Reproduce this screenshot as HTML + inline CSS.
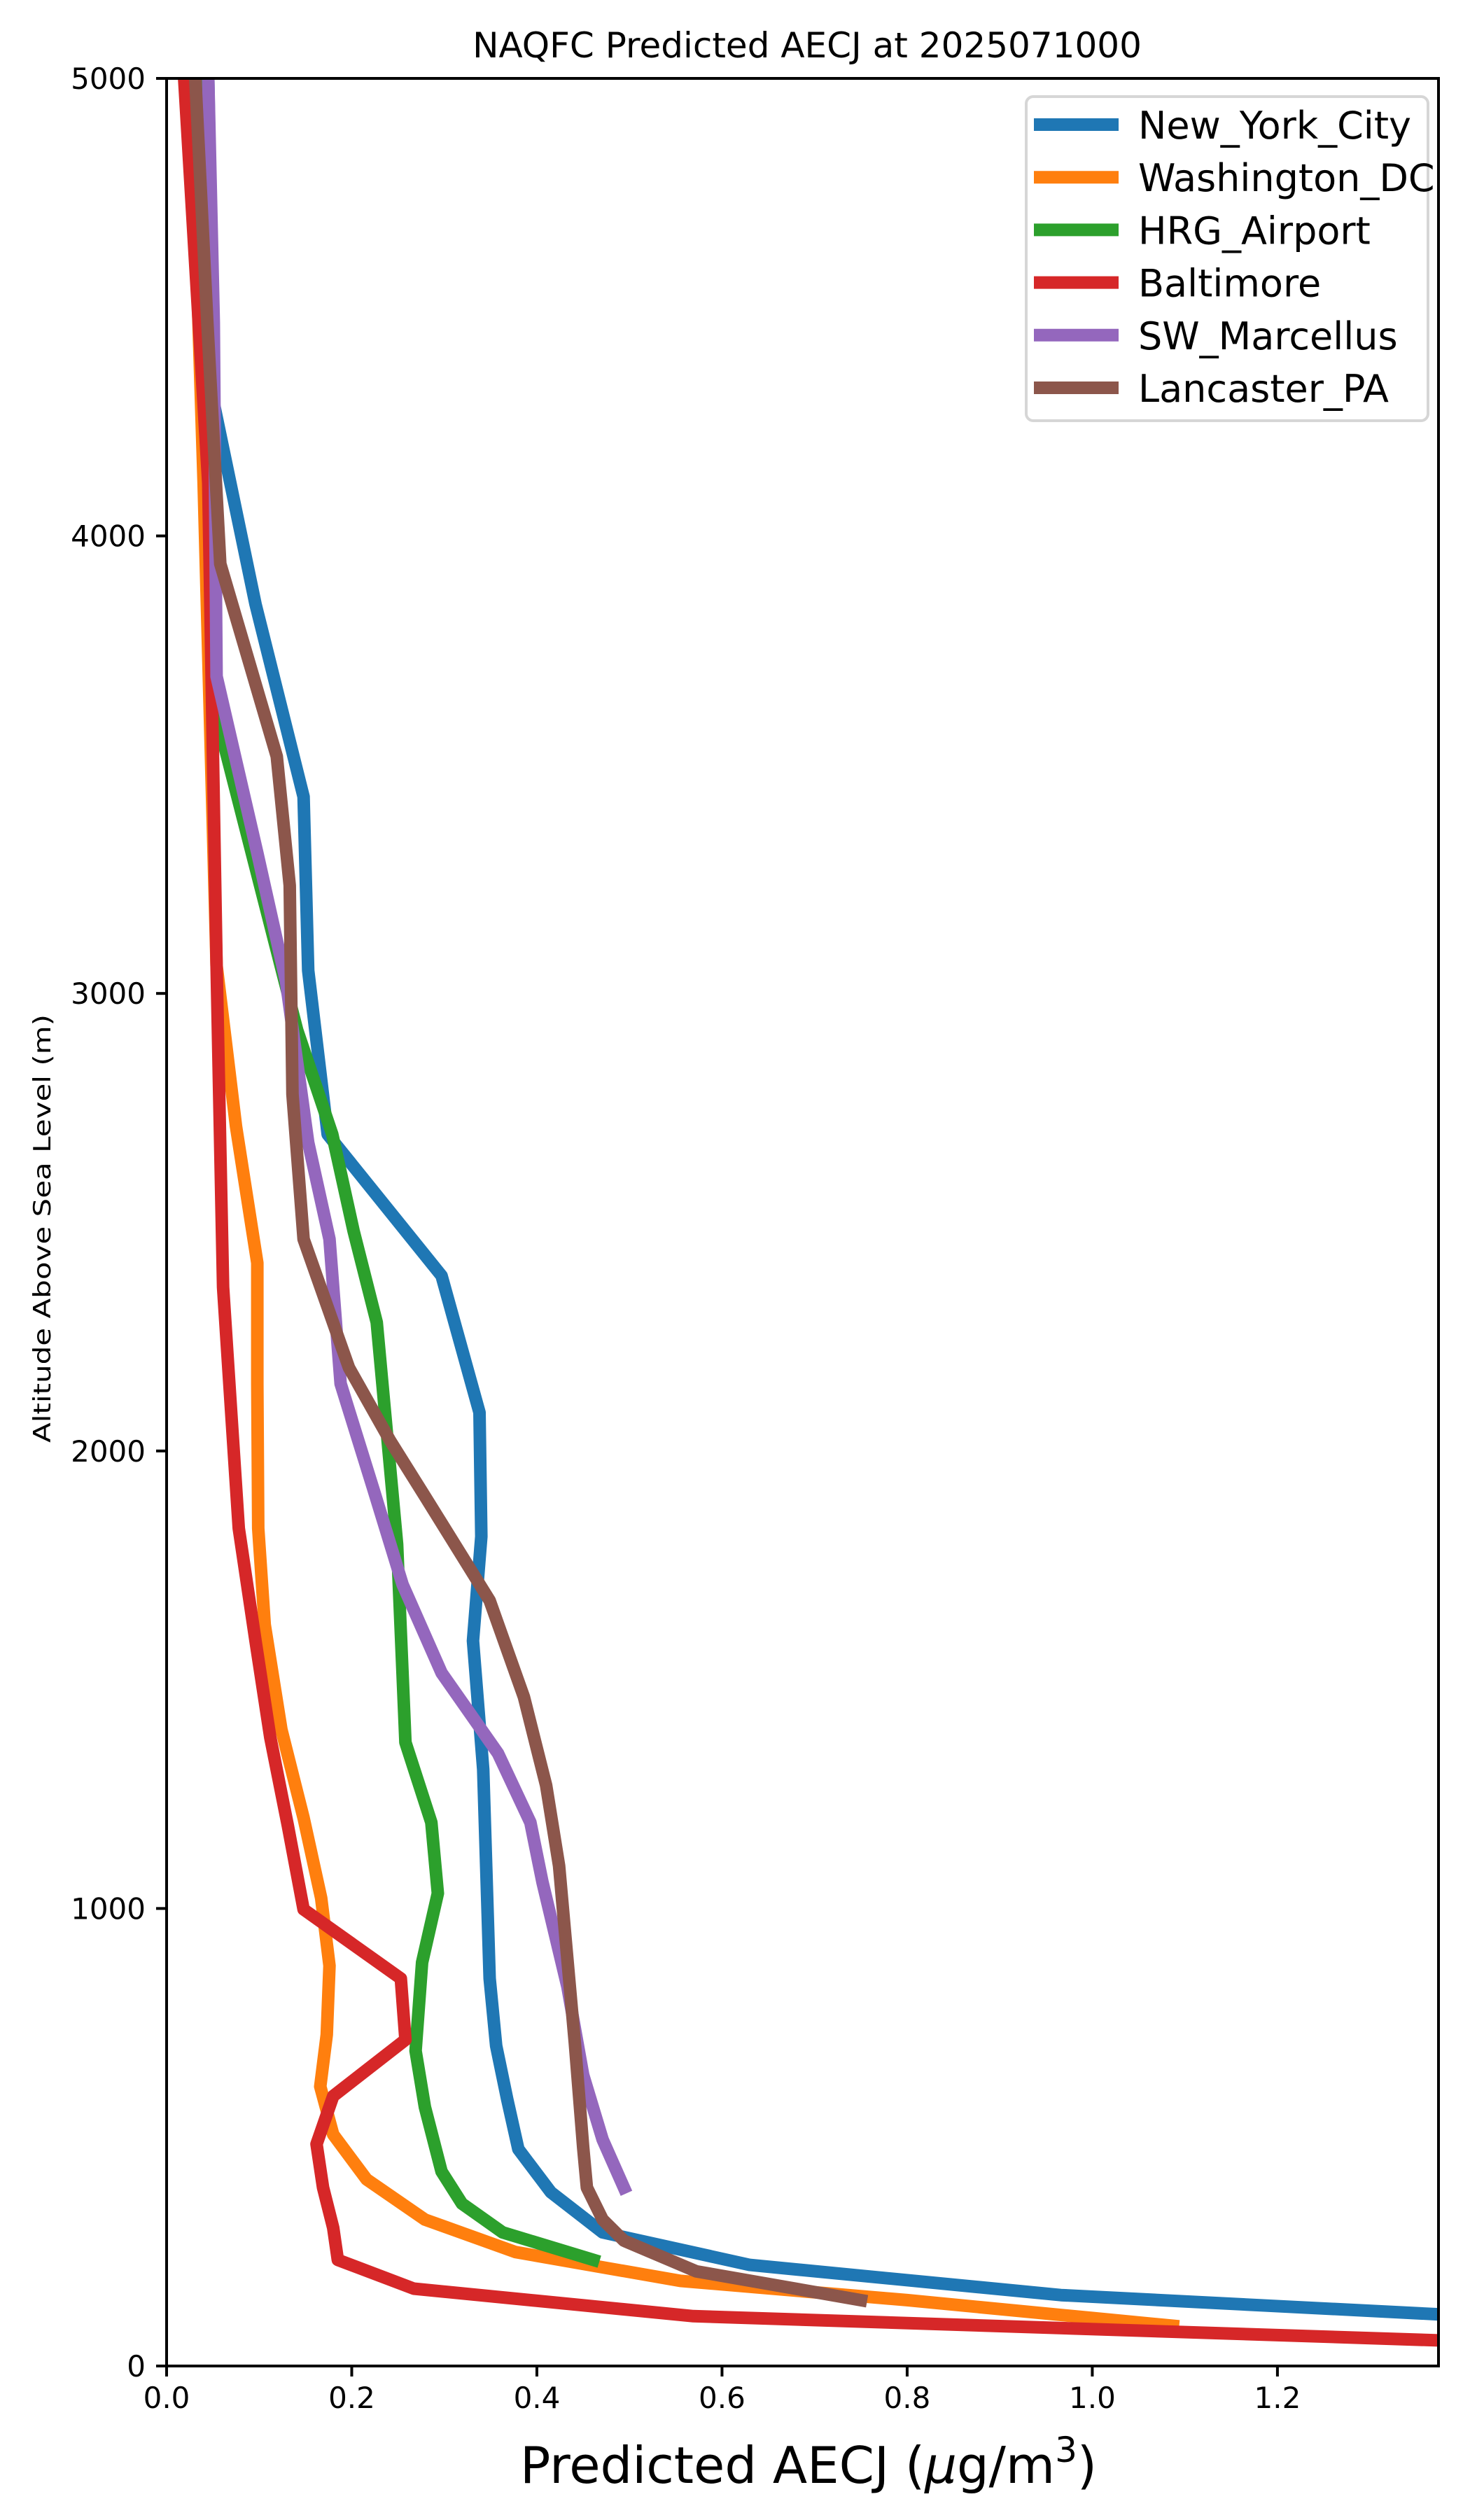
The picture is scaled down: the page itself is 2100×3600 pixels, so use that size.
<!DOCTYPE html>
<html><head><meta charset="utf-8"><style>
html,body{margin:0;padding:0;background:#fff;}
svg{display:block;font-family:"DejaVu Sans","Liberation Sans",sans-serif;}
</style></head><body>
<svg id="chart" width="2100" height="3600" viewBox="0 0 2100 3600" xmlns="http://www.w3.org/2000/svg">
<rect x="0" y="0" width="2100" height="3600" fill="#fff"/>
<defs><clipPath id="plotclip"><rect x="238" y="112" width="1817" height="3268"/></clipPath></defs>
<text x="1153" y="82" font-size="50" text-anchor="middle">NAQFC Predicted AECJ at 2025071000</text>
<g id="series" clip-path="url(#plotclip)"></g>
<g id="axes"></g>
<text x="1155" y="3547" font-size="72" text-anchor="middle">Predicted AECJ (<tspan font-style="italic">μ</tspan>g/m<tspan font-size="50" dy="-30">3</tspan><tspan dy="30">)</tspan></text>
<text transform="translate(72,1755) rotate(-90)" font-size="34" text-anchor="middle" textLength="612" lengthAdjust="spacingAndGlyphs">Altitude Above Sea Level (m)</text>
<g id="legend"></g>
</svg>
<script>
const seriesNames = ["New_York_City","Washington_DC","HRG_Airport","Baltimore","SW_Marcellus","Lancaster_PA"];
const seriesColors = ["#1f77b4","#ff7f0e","#2ca02c","#d62728","#9467bd","#8c564b"];
const xTicks = [0,0.2,0.4,0.6,0.8,1.0,1.2];
const xTickLabels = ["0.0","0.2","0.4","0.6","0.8","1.0","1.2"];
const yTicks = [0,1000,2000,3000,4000,5000];
const yTickLabels = ["0","1000","2000","3000","4000","5000"];
const nycX = [0.045,0.051,0.096,0.148,0.153,0.174,0.297,0.338,0.340,0.331,0.342,0.349,0.356,0.368,0.380,0.415,0.471,0.63,0.966,1.383];
const nycY = [5000,4290,3851,3430,3050,2692,2383,2084,1813,1585,1304,847,700,583,474,380,292,221,155,112];
const dcX = [0.026,0.040,0.054,0.075,0.098,0.098,0.099,0.106,0.124,0.148,0.167,0.176,0.173,0.166,0.180,0.216,0.279,0.377,0.555,0.80,1.087];
const dcY = [5000,4115,3061,2709,2411,2147,1831,1620,1391,1198,1023,875,724,611,506,408,320,249,186,144,88];
const hrgX = [0.040,0.047,0.052,0.101,0.141,0.179,0.202,0.227,0.249,0.258,0.286,0.293,0.276,0.269,0.279,0.297,0.319,0.363,0.461];
const hrgY = [5000,4000,3623,3236,2920,2692,2481,2281,1796,1363,1188,1033,882,689,566,425,355,292,232];
const balX = [0.019,0.045,0.054,0.061,0.070,0.078,0.096,0.112,0.131,0.148,0.253,0.258,0.180,0.162,0.169,0.180,0.185,0.267,0.569,1.374];
const balY = [5000,4115,3061,2358,2077,1831,1585,1374,1181,998,847,713,590,485,390,302,232,169,109,56];
const swmX = [0.045,0.051,0.054,0.098,0.129,0.153,0.176,0.188,0.223,0.255,0.297,0.358,0.393,0.406,0.433,0.450,0.471,0.494];
const swmY = [5000,4466,3693,3307,3026,2674,2463,2147,1919,1708,1515,1339,1188,1058,829,636,495,390];
const lanX = [0.031,0.044,0.058,0.119,0.133,0.136,0.148,0.197,0.241,0.279,0.349,0.386,0.410,0.424,0.441,0.450,0.454,0.471,0.494,0.572,0.750];
const lanY = [5000,4466,3939,3518,3236,2780,2463,2182,2024,1901,1673,1462,1269,1093,706,478,390,320,274,207,144];
const allX = [nycX,dcX,hrgX,balX,swmX,lanX];
const allY = [nycY,dcY,hrgY,balY,swmY,lanY];

const X0=238,X1=2055,Y0=112,Y1=3380,XMAX=1.374,YMAX=5000;
const sx = v => X0 + v/XMAX*(X1-X0);
const sy = v => Y1 - v/YMAX*(Y1-Y0);
const NS="http://www.w3.org/2000/svg";
function mk(tag,attrs,parent){const e=document.createElementNS(NS,tag);for(const k in attrs)e.setAttribute(k,attrs[k]);parent.appendChild(e);return e;}
const gS=document.getElementById('series');
for(let i=0;i<seriesNames.length;i++){
  const pts=allX[i].map((x,j)=>sx(x).toFixed(1)+','+sy(allY[i][j]).toFixed(1)).join(' ');
  const p=mk('polyline',{points:pts,fill:'none',stroke:seriesColors[i],'stroke-width':18,'stroke-linejoin':'round','stroke-linecap':'square'},gS);
  
  
}
const gA=document.getElementById('axes');
const frame=mk('rect',{x:X0,y:Y0,width:X1-X0,height:Y1-Y0,fill:'none',stroke:'#000','stroke-width':4},gA);


xTicks.forEach((t,i)=>{
  const x=sx(t);
  mk('line',{x1:x,y1:Y1,x2:x,y2:Y1+15,stroke:'#000','stroke-width':4},gA);
  const tx=mk('text',{x:x,y:3440,'font-size':42,'text-anchor':'middle'},gA);
  tx.textContent=xTickLabels[i];
  
  
});
yTicks.forEach((t,i)=>{
  const y=sy(t);
  mk('line',{x1:X0-15,y1:y,x2:X0,y2:y,stroke:'#000','stroke-width':4},gA);
  const tx=mk('text',{x:208,y:y+15,'font-size':42,'text-anchor':'end'},gA);
  tx.textContent=yTickLabels[i];
  
  
});
const gL=document.getElementById('legend');
mk('rect',{x:1466,y:138,width:574,height:463,rx:10,fill:'#fff','fill-opacity':0.8,stroke:'#d6d6d6','stroke-width':4},gL);
seriesNames.forEach((n,i)=>{
  const y=178+i*75.2;
  const l=mk('line',{x1:1477,y1:y,x2:1598,y2:y,stroke:seriesColors[i],'stroke-width':18},gL);
  
  
  const t=mk('text',{x:1626,y:y+20,'font-size':54},gL);
  t.textContent=n;
  
  
});
</script>
</body></html>
